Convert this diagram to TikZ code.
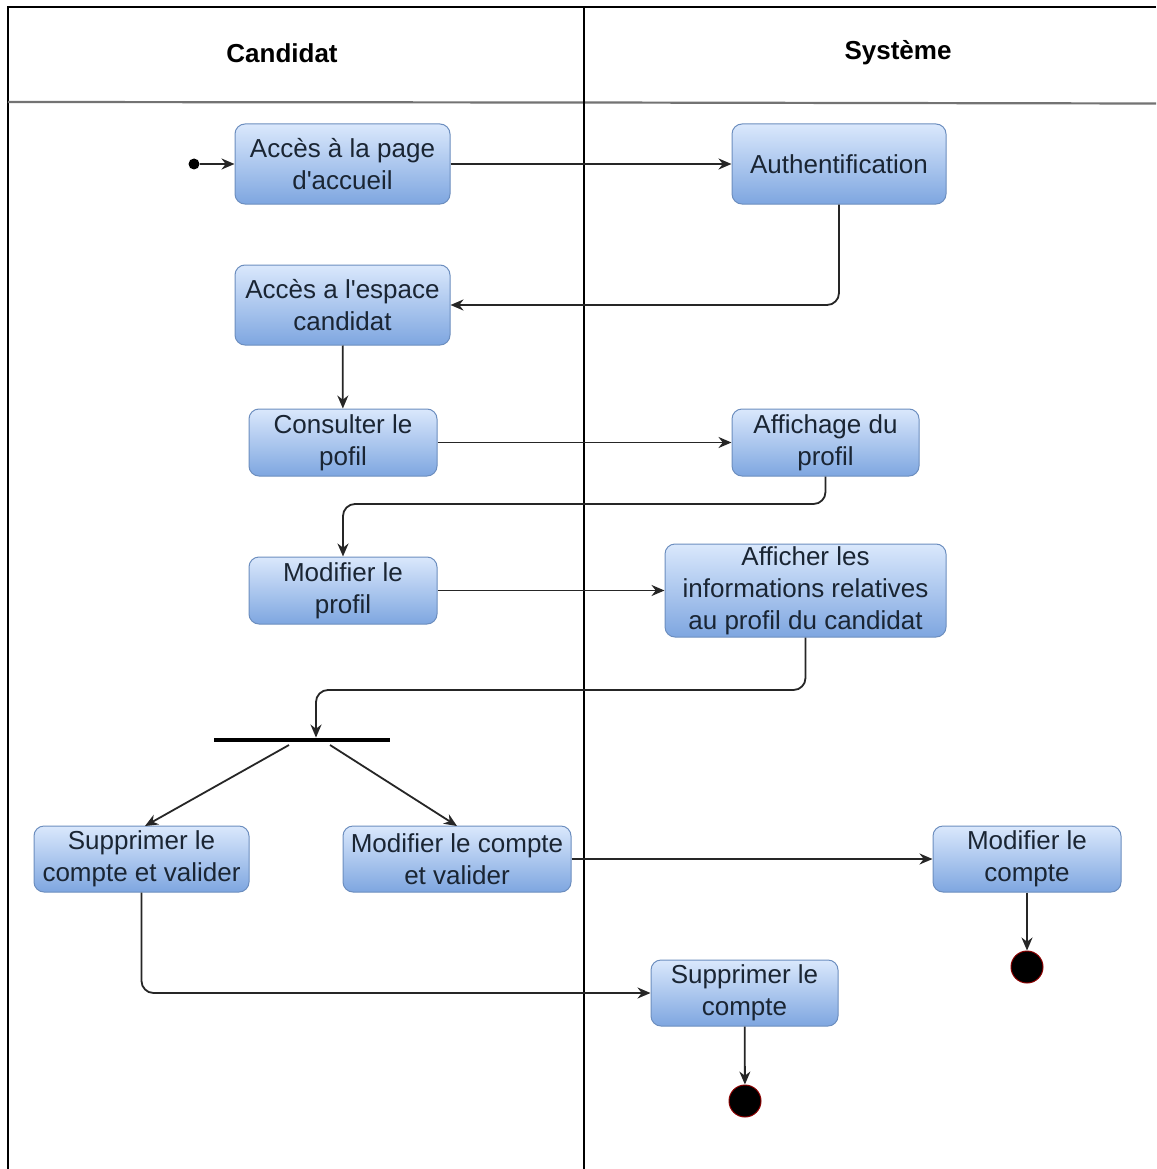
\documentclass[tikz,border=0pt]{standalone}
\usepackage{fontspec}
\setmainfont{Liberation Sans}
\usetikzlibrary{arrows.meta,positioning}
\definecolor{boxtop}{HTML}{DAE8FC}
\definecolor{boxbot}{HTML}{7EA6E0}
\definecolor{boxline}{HTML}{6C8EBF}
\definecolor{boxtext}{HTML}{1A2533}
\definecolor{endring}{HTML}{8B0000}
\newcommand{\apos}{\textquotesingle}
\begin{document}
\begin{tikzpicture}[x=1pt,y=-1pt,
  action/.style={draw=boxline,line width=1pt,rounded corners=10pt,
    top color=boxtop,bottom color=boxbot,inner sep=0pt,align=center,
    text=boxtext,font=\fontsize{26}{32}\selectfont},
  flow/.style={draw=black!85,line width=1.8pt,rounded corners=12pt,
    -{Stealth[length=13pt,width=11pt]}},
  finalstate/.style={circle,fill=black,draw=endring,line width=1pt,
    minimum size=32pt,inner sep=0pt},
  lanehead/.style={font=\fontsize{26}{30}\selectfont\bfseries}]
\useasboundingbox (0,0) rectangle (1156,1169);
\fill[white] (0,0) rectangle (1156,1169);

% swimlane frame
\draw[line width=1.8pt] (8,1169) -- (8,7) -- (1156,7);
\draw[black!55,line width=2.2pt] (8,102) -- (584,102.5) -- (1156,103.5);
\draw[line width=1.6pt] (584,7) -- (584,1169);
\node[lanehead] (lane1) at (282,53) {Candidat};
\node[lanehead] (lane2) at (898,53) {Système};

% actions
\node[action,minimum width=215pt,minimum height=80pt] (acc) at (342.5,164) {Accès à la page\\d\apos accueil};
\node[action,minimum width=214pt,minimum height=80pt] (auth) at (839,164) {Authentification};
\node[action,minimum width=215pt,minimum height=80pt] (esp) at (342.5,305) {Accès a l\apos espace\\candidat};
\node[action,minimum width=188pt,minimum height=67pt] (cons) at (343,442.5) {Consulter le\\pofil};
\node[action,minimum width=187pt,minimum height=67pt] (aff) at (825.5,442.5) {Affichage du\\profil};
\node[action,minimum width=188pt,minimum height=67pt] (modp) at (343,590.5) {Modifier le\\profil};
\node[action,minimum width=281pt,minimum height=93pt] (info) at (805.5,590.5) {Afficher les\\informations relatives\\au profil du candidat};
\node[action,minimum width=215pt,minimum height=66pt] (supv) at (141.5,859) {Supprimer le\\compte et valider};
\node[action,minimum width=228pt,minimum height=66pt] (modv) at (457,859) {Modifier le compte\\et valider};
\node[action,minimum width=188pt,minimum height=66pt] (modc) at (1027,859) {Modifier le\\compte};
\node[action,minimum width=187pt,minimum height=66pt] (supc) at (744.5,993) {Supprimer le\\compte};

% initial, fork and final states
\node[circle,fill=black,minimum size=11pt,inner sep=0pt] (start) at (194,164) {};
\node[fill=black,minimum width=176pt,minimum height=4.5pt,inner sep=0pt] (fork) at (301.5,740) {};
\node[finalstate] (end1) at (1027,967) {};
\node[finalstate] (end2) at (745,1101) {};
\coordinate (forkL) at (289,745);
\coordinate (forkR) at (330,745);

% transitions
\draw[flow] (start) -- (acc);
\draw[flow] (acc) -- (auth);
\draw[flow] (auth.south) |- (esp.east);
\draw[flow] (esp) -- (cons);
\draw[flow] (cons) -- (aff);
\draw[flow] (aff.south) -- (825.5,504) -| (modp.north);
\draw[flow] (modp) -- (info);
\draw[flow] (info.south) -- (805.5,690) -| (fork.north -| 316,0);
\draw[flow,rounded corners=0pt] (forkL) -- (145,826);
\draw[flow,rounded corners=0pt] (forkR) -- (457,826);
\draw[flow] (modv) -- (modc);
\draw[flow] (supv.south) |- (supc.west);
\draw[flow] (modc) -- (end1);
\draw[flow] (supc) -- (end2);
\end{tikzpicture}
\end{document}
